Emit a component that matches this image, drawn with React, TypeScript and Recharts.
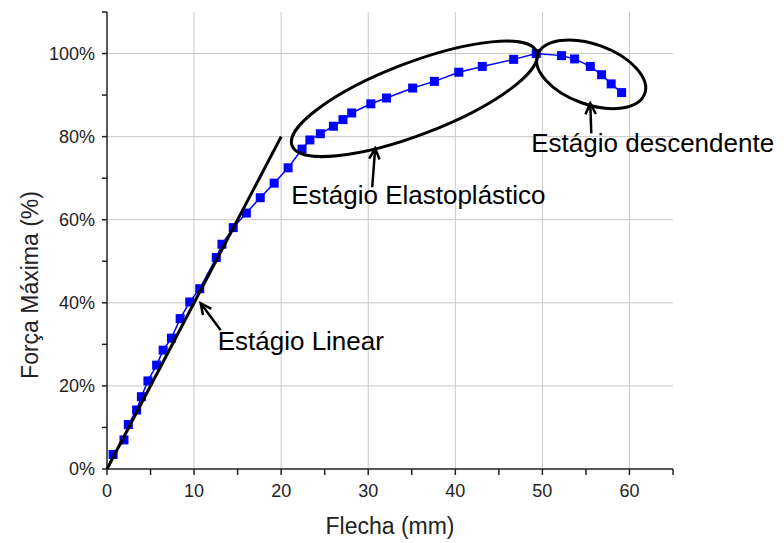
import React from 'react';
import { LineChart, Line, XAxis, YAxis, ReferenceLine, ReferenceDot } from 'recharts';

// Deflection (mm) and relative force (% of maximum)
const flecha = [
  0.7, 1.95, 2.45, 3.4, 3.95, 4.7, 5.7, 6.45, 7.4, 8.4, 9.5, 10.65,
  12.55, 13.2, 14.5, 16.0, 17.6, 19.2, 20.8, 22.4, 23.3, 24.5, 26.0, 27.1,
  28.1, 30.3, 32.1, 35.1, 37.6, 40.4, 43.1, 46.7, 49.3, 52.2, 53.7, 55.5,
  56.8, 57.9, 59.1,
];
const forca = [
  3.5, 7.0, 10.7, 14.2, 17.4, 21.2, 25.0, 28.6, 31.5, 36.2, 40.2, 43.4,
  50.9, 54.1, 58.1, 61.6, 65.3, 68.8, 72.5, 77.0, 79.2, 80.7, 82.5, 84.1,
  85.7, 87.9, 89.3, 91.7, 93.3, 95.5, 96.9, 98.6, 100, 99.5, 98.7, 96.9,
  94.9, 92.7, 90.6,
];

const xTicks = [0, 5, 10, 15, 20, 25, 30, 35, 40, 45, 50, 55, 60, 65];
const xLabelTicks = [0, 10, 20, 30, 40, 50, 60];
const yTicks = [0, 10, 20, 30, 40, 50, 60, 70, 80, 90, 100, 110];
const yLabelTicks = [0, 20, 40, 60, 80, 100];
const xGrid = [10, 20, 30, 40, 50, 60];
const yGrid = [20, 40, 60, 80, 100];

// Linear-stage tangent line (deflection, force)
const tangenteFlecha = [0, 20];
const tangenteForca = [0, 80];

// Stage annotations: arrow tip in data space
const stageLinear = { x: 10.76, y: 39.9, label: 'Estágio Linear' };
const stageElasto = { x: 30.8, y: 77.2, label: 'Estágio Elastoplástico' };
const stageDesc = { x: 55.5, y: 88.0, label: 'Estágio descendente' };

// Ellipse centres in data space
const ellipseElasto = { x: 35.3, y: 89.1 };
const ellipseDesc = { x: 55.6, y: 95.0 };

const data = flecha.map((f, i) => ({ flecha: f, forca: forca[i] }));
const tangente = tangenteFlecha.map((f, i) => ({ flecha: f, tangente: tangenteForca[i] }));

const FONT = '"Liberation Sans", Arial, sans-serif';

const SquareDot = (props: any) => {
  const { cx, cy } = props;
  if (cx == null || cy == null) return null;
  return <rect x={cx - 4.5} y={cy - 4.5} width={9} height={9} fill="#0000ff" />;
};

const XTick = (props: any) => {
  const { x, y, payload } = props;
  if (!xLabelTicks.includes(payload.value)) return null;
  return (
    <text x={x} y={y} dy="0.71em" textAnchor="middle" fontSize={18} fontFamily={FONT} fill="#222">
      {payload.value}
    </text>
  );
};

const YTick = (props: any) => {
  const { x, y, payload } = props;
  if (!yLabelTicks.includes(payload.value)) return null;
  return (
    <text x={x} y={y} dy="0.36em" textAnchor="end" fontSize={18} fontFamily={FONT} fill="#222">
      {payload.value}%
    </text>
  );
};

const makeEllipse = (rx: number, ry: number, angle: number) => (props: any) => {
  const { cx, cy } = props;
  return (
    <ellipse
      cx={cx}
      cy={cy}
      rx={rx}
      ry={ry}
      fill="none"
      stroke="#000"
      strokeWidth={3}
      transform={`rotate(${angle} ${cx} ${cy})`}
    />
  );
};

// Arrow from (tip + tail offset) to tip, with a text label offset from tip
const makeArrow = (label: string, tdx: number, tdy: number, lx: number, ly: number) => (props: any) => {
  const { cx, cy } = props;
  const sx = cx + tdx;
  const sy = cy + tdy;
  const ang = Math.atan2(cy - sy, cx - sx);
  const h = 12;
  const spread = Math.PI / 7;
  const a1x = cx - h * Math.cos(ang - spread);
  const a1y = cy - h * Math.sin(ang - spread);
  const a2x = cx - h * Math.cos(ang + spread);
  const a2y = cy - h * Math.sin(ang + spread);
  return (
    <g>
      <line x1={sx} y1={sy} x2={cx} y2={cy} stroke="#000" strokeWidth={2.5} />
      <polyline
        points={`${a1x},${a1y} ${cx},${cy} ${a2x},${a2y}`}
        fill="none"
        stroke="#000"
        strokeWidth={2.5}
      />
      <text x={cx + lx} y={cy + ly} fontSize={26} fontFamily={FONT} fill="#000">
        {label}
      </text>
    </g>
  );
};

const XTitle = (props: any) => {
  const vb = props.viewBox || { x: 107, y: 469, width: 566, height: 40 };
  return (
    <text x={vb.x + vb.width / 2} y={534} textAnchor="middle" fontSize={23} fontFamily={FONT} fill="#222">
      Flecha (mm)
    </text>
  );
};

const YTitle = () => (
  <text
    x={0}
    y={0}
    transform="translate(38 285) rotate(-90)"
    textAnchor="middle"
    fontSize={23}
    fontFamily={FONT}
    fill="#222"
  >
    Força Máxima (%)
  </text>
);

export default function App() {
  return (
    <div style={{ position: 'absolute', left: 0, top: 0, background: '#fff' }}>
      <LineChart
        width={784}
        height={543}
        data={data}
        margin={{ top: 12, right: 111, bottom: 34, left: 47 }}
      >
        {xGrid.map((v) => (
          <ReferenceLine key={'gx' + v} x={v} stroke="#c8c8c8" strokeWidth={1} />
        ))}
        {yGrid.map((v) => (
          <ReferenceLine key={'gy' + v} y={v} stroke="#c8c8c8" strokeWidth={1} />
        ))}
        <XAxis
          dataKey="flecha"
          type="number"
          domain={[0, 65]}
          ticks={xTicks}
          interval={0}
          tick={<XTick />}
          tickSize={6}
          tickMargin={9}
          height={40}
          axisLine={{ stroke: '#222', strokeWidth: 1.5 }}
          tickLine={{ stroke: '#222', strokeWidth: 1.5 }}
          label={<XTitle />}
        />
        <YAxis
          type="number"
          domain={[0, 110]}
          ticks={yTicks}
          interval={0}
          tick={<YTick />}
          tickSize={5}
          tickMargin={7}
          width={60}
          axisLine={{ stroke: '#222', strokeWidth: 1.5 }}
          tickLine={{ stroke: '#222', strokeWidth: 1.5 }}
          label={<YTitle />}
        />
        <Line
          dataKey="forca"
          type="linear"
          stroke="#0000ff"
          strokeWidth={1.5}
          dot={<SquareDot />}
          isAnimationActive={false}
        />
        <Line
          data={tangente}
          dataKey="tangente"
          type="linear"
          stroke="#000"
          strokeWidth={3}
          dot={false}
          zIndex={1100}
          isAnimationActive={false}
        />
        <ReferenceDot x={ellipseElasto.x} y={ellipseElasto.y} shape={makeEllipse(131, 36, -21)} zIndex={1100} />
        <ReferenceDot x={ellipseDesc.x} y={ellipseDesc.y} shape={makeEllipse(57, 30, 20)} zIndex={1100} />
        <ReferenceDot
          x={stageLinear.x}
          y={stageLinear.y}
          shape={makeArrow(stageLinear.label, 20, 27, 17, 47)}
          zIndex={1100}
        />
        <ReferenceDot
          x={stageElasto.x}
          y={stageElasto.y}
          shape={makeArrow(stageElasto.label, -3, 39, -84, 56)}
          zIndex={1100}
        />
        <ReferenceDot
          x={stageDesc.x}
          y={stageDesc.y}
          shape={makeArrow(stageDesc.label, 1, 30, -59, 49)}
          zIndex={1100}
        />
      </LineChart>
    </div>
  );
}
